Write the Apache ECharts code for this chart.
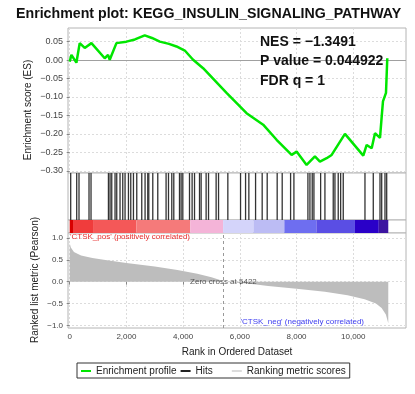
<!DOCTYPE html>
<html>
<head>
<meta charset="utf-8">
<script src="https://cdn.jsdelivr.net/npm/echarts@6/dist/echarts.min.js"></script>
<style>
  html, body { margin: 0; padding: 0; background: #fff; }
  #chart { width: 415px; height: 394px; }
</style>
</head>
<body>
<div id="chart"></div>
<script>
// tick labels
const rankTicks = [0, 2000, 4000, 6000, 8000, 10000];
const esTicks = [-0.30, -0.25, -0.20, -0.15, -0.10, -0.05, 0.00, 0.05];
const metricTicks = [-1, -0.5, 0, 0.5, 1];

// running enrichment score [rank, ES]
const esProfile = [
  [0, -0.004], [60, 0.014], [236, -0.007], [353, 0.046], [530, 0.033], [766, 0.046],
  [1235, 0.005], [1352, 0.014], [1412, 0.001], [1648, 0.046], [2001, 0.050], [2300, 0.056],
  [2647, 0.067], [2900, 0.060], [3177, 0.050], [3500, 0.044], [3766, 0.037], [4059, 0.026],
  [4352, 0.001], [4705, -0.022], [5531, -0.089], [6237, -0.144], [6823, -0.175], [7296, -0.216],
  [7826, -0.257], [8002, -0.248], [8355, -0.284], [8648, -0.261], [8825, -0.275], [9061, -0.266],
  [9238, -0.257], [9707, -0.200], [10353, -0.259], [10473, -0.230], [10650, -0.239], [10766, -0.198],
  [10943, -0.211], [11003, -0.153], [11048, -0.112], [11154, -0.089], [11200, 0.005]
];

// positions of gene set members in the ranked list
const hitRanks = [
  35, 247, 328, 681, 752, 1366, 1423, 1483, 1599, 1659, 1775, 1871, 1952, 2072, 2153, 2248,
  2365, 2541, 2658, 2753, 2789, 2930, 3106, 3399, 3484, 3600, 3671, 3872, 3929, 3989, 4225,
  4317, 4402, 4578, 4635, 4811, 4896, 5164, 5249, 5577, 6025, 6202, 6318, 6555, 6788, 6965,
  7317, 7494, 7790, 7907, 8401, 8472, 8553, 8613, 8849, 9001, 9294, 9354, 9470, 9555, 9647,
  10413, 10706, 10943, 11003, 11119, 11179
];

// ranked list metric [rank, pearson]
const metricScores = [
  [0, 0.88], [40, 0.78], [150, 0.68], [400, 0.60], [800, 0.54], [1200, 0.50], [2000, 0.43],
  [3000, 0.35], [3800, 0.27], [4500, 0.18], [5000, 0.10], [5300, 0.04], [5422, 0],
  [5800, -0.02], [6500, -0.06], [7000, -0.10], [8000, -0.16], [9000, -0.23], [9800, -0.31],
  [10400, -0.40], [10800, -0.50], [11000, -0.60], [11150, -0.75], [11235, -0.95]
];

// heat bar blocks
const bandEdges = [0, 117, 823, 2353, 4250, 5410, 6480, 7570, 8700, 10060, 10900, 11235];
const bandColors = ['#d80000', '#f03c3c', '#f45858', '#f57a7a', '#f4b4d8', '#d4d4fa',
  '#bcbcf4', '#6e6ef0', '#5a4ee4', '#2a00c8', '#3c14a0'];

const zeroCross = 5422;
const stats = ['NES = \u22121.3491', 'P value = 0.044922', 'FDR q = 1'];

const font = 'Liberation Sans, Arial, sans-serif';
const green = '#00e600';
const frame = '#b4b4b4';
const dash = { color: '#dcdcdc', type: [2, 2] };
const rankMin = -60, rankMax = 11860;

const bands = bandColors.map((c, i) => [bandEdges[i], bandEdges[i + 1], i]);

const chart = echarts.init(document.getElementById('chart'));

const grids = [
  { left: 68, right: 9, top: 28, height: 145 },
  { left: 68, right: 9, top: 173, height: 47 },
  { left: 68, right: 9, top: 220, height: 13 },
  { left: 68, right: 9, top: 233, height: 95 }
].map(g => Object.assign({ show: true, borderColor: frame, borderWidth: 1, backgroundColor: '#fff' }, g));

const hiddenX = (i, grid) => ({
  type: 'value', gridIndex: i, min: rankMin, max: rankMax,
  axisLine: { show: false }, axisTick: { show: false, customValues: rankTicks },
  axisLabel: { show: false, customValues: rankTicks },
  splitLine: { show: grid, lineStyle: dash }
});

const option = {
  backgroundColor: '#fff',
  animation: false,
  textStyle: { fontFamily: font },
  title: {
    text: 'Enrichment plot: KEGG_INSULIN_SIGNALING_PATHWAY',
    left: 16, top: 7, padding: 0,
    textStyle: { fontSize: 14.2, fontWeight: 'bold', color: '#111', fontFamily: font }
  },
  legend: {
    left: 77, top: 363, padding: [3, 4, 2, 4],
    borderColor: '#333', borderWidth: 1, borderRadius: 0,
    itemGap: 4, itemWidth: 10, itemHeight: 2, selectedMode: false,
    textStyle: { fontSize: 10, color: '#222', fontFamily: font },
    formatter: n => n === 'Hits' ? n + '\u2003\u2002' : n,
    data: [
      { name: 'Enrichment profile', icon: 'rect', itemStyle: { color: green } },
      { name: 'Hits', icon: 'rect', itemStyle: { color: '#222' } },
      { name: 'Ranking metric scores', icon: 'rect', itemStyle: { color: '#dcdcdc' } }
    ]
  },
  grid: grids,
  xAxis: [
    hiddenX(0, true),
    hiddenX(1, false),
    hiddenX(2, false),
    {
      type: 'value', gridIndex: 3, min: rankMin, max: rankMax,
      axisLine: { show: false },
      axisTick: { show: true, length: 3, customValues: rankTicks, lineStyle: { color: '#888' } },
      axisLabel: {
        customValues: rankTicks, fontSize: 8, color: '#444', margin: 5,
        formatter: v => v.toLocaleString('en-US')
      },
      splitLine: { show: true, lineStyle: dash },
      name: 'Rank in Ordered Dataset', nameLocation: 'middle', nameGap: 19,
      nameTextStyle: { fontSize: 10, color: '#222' }
    }
  ],
  yAxis: [
    {
      type: 'value', gridIndex: 0, min: -0.306, max: 0.087,
      axisLine: { show: false },
      axisTick: { show: true, length: 3, customValues: esTicks, lineStyle: { color: '#888' } },
      axisLabel: {
        customValues: esTicks, fontSize: 9, color: '#444', margin: 5,
        formatter: v => v.toFixed(2).replace('-', '\u2212')
      },
      splitLine: { show: true, lineStyle: dash }
    },
    { type: 'value', gridIndex: 1, min: 0, max: 1, show: false },
    { type: 'value', gridIndex: 2, min: 0, max: 1, show: false },
    {
      type: 'value', gridIndex: 3, min: -1.06, max: 1.114,
      axisLine: { show: false },
      axisTick: { show: true, length: 3, customValues: metricTicks, lineStyle: { color: '#888' } },
      axisLabel: {
        customValues: metricTicks, fontSize: 8, color: '#444', margin: 5,
        formatter: v => v.toFixed(1).replace('-', '\u2212')
      },
      splitLine: { show: true, lineStyle: dash }
    }
  ],
  graphic: [
    {
      type: 'text', x: 28, y: 110, rotation: Math.PI / 2,
      style: { text: 'Enrichment score (ES)', fontSize: 10, fontFamily: font, fill: '#222', align: 'center', verticalAlign: 'middle' }
    },
    {
      type: 'text', x: 35, y: 280, rotation: Math.PI / 2,
      style: { text: 'Ranked list metric (Pearson)', fontSize: 10, fontFamily: font, fill: '#222', align: 'center', verticalAlign: 'middle' }
    },
    ...stats.map((s, i) => ({
      type: 'text', x: 260, y: 42 + i * 19.5, z: 100,
      style: { text: s, fontSize: 14, fontWeight: 'bold', fontFamily: font, fill: '#111', verticalAlign: 'middle' }
    })),
    {
      type: 'text', x: 70, y: 237, z: 100,
      style: { text: "'CTSK_pos' (positively correlated)", fontSize: 8, fontFamily: font, fill: '#e83030', verticalAlign: 'middle' }
    },
    {
      type: 'text', x: 364, y: 322, z: 100,
      style: { text: "'CTSK_neg' (negatively correlated)", fontSize: 8, fontFamily: font, fill: '#3c3cf0', align: 'right', verticalAlign: 'middle' }
    }
  ],
  series: [
    {
      name: 'Enrichment profile', type: 'line', xAxisIndex: 0, yAxisIndex: 0,
      data: esProfile, showSymbol: false, z: 5,
      lineStyle: { color: green, width: 2.5 }, itemStyle: { color: green },
      markLine: {
        silent: true, symbol: 'none', label: { show: false },
        lineStyle: { color: '#a0a0a0', type: 'solid', width: 1 },
        data: [{ yAxis: 0 }]
      }
    },
    {
      name: 'Hits', type: 'custom', xAxisIndex: 1, yAxisIndex: 1,
      data: hitRanks.map(r => [r]),
      itemStyle: { color: '#222' },
      renderItem: (params, api) => {
        const top = api.coord([api.value(0), 1]);
        const bottom = api.coord([api.value(0), 0]);
        return {
          type: 'line',
          shape: { x1: top[0], y1: top[1], x2: bottom[0], y2: bottom[1] },
          style: { stroke: '#333', lineWidth: 1.3 }
        };
      }
    },
    {
      name: 'Heat', type: 'custom', xAxisIndex: 2, yAxisIndex: 2,
      data: bands,
      renderItem: (params, api) => {
        const a = api.coord([api.value(0), 1]);
        const b = api.coord([api.value(1), 0]);
        return {
          type: 'rect',
          shape: { x: a[0], y: a[1], width: b[0] - a[0], height: b[1] - a[1] },
          style: { fill: bandColors[api.value(2)] }
        };
      }
    },
    {
      name: 'Ranking metric scores', type: 'line', xAxisIndex: 3, yAxisIndex: 3,
      data: metricScores, showSymbol: false,
      lineStyle: { width: 0 }, itemStyle: { color: '#bdbdbd' },
      areaStyle: { color: '#bdbdbd', opacity: 1 }
    },
    {
      name: 'Zero cross', type: 'scatter', xAxisIndex: 3, yAxisIndex: 3,
      data: [[zeroCross, 0]], symbolSize: 0, z: 10,
      label: {
        show: true, position: 'inside', formatter: 'Zero cross at ' + zeroCross,
        fontSize: 8, color: '#333', fontFamily: font
      },
      markLine: {
        silent: true, symbol: 'none', label: { show: false },
        lineStyle: { color: '#999', type: [3, 3], width: 1 },
        data: [{ xAxis: zeroCross }]
      }
    }
  ]
};

chart.setOption(option);
</script>
</body>
</html>
